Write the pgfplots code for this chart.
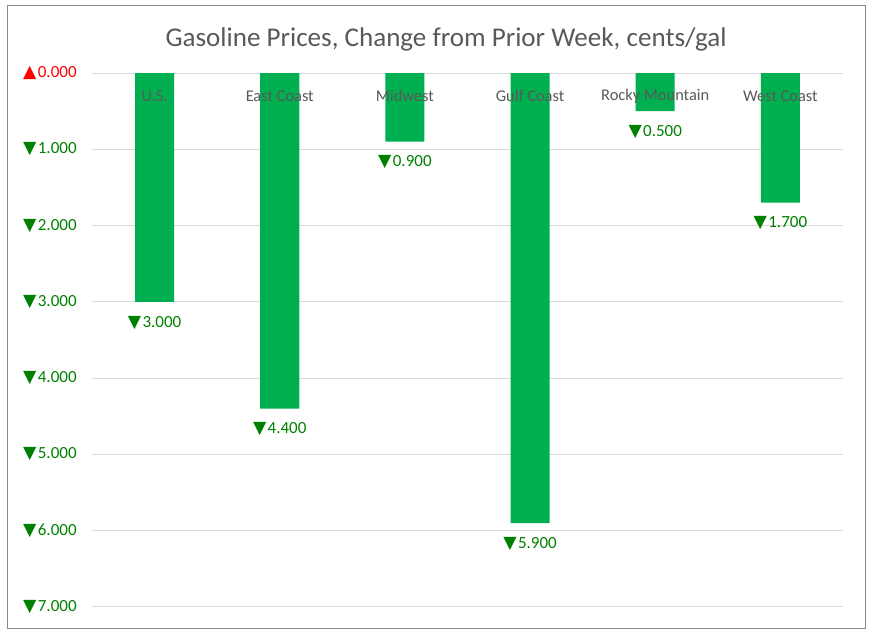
\documentclass[border=0pt]{standalone}
\usepackage{pgfplots}
\pgfplotsset{compat=1.18}
\usepackage{pgfplotstable}
\usepackage{fontspec}
\setmainfont{Carlito}
\newfontfamily\sym{DejaVu Sans}
\definecolor{bargreen}{HTML}{00B050}
\definecolor{lblgreen}{HTML}{008000}
\definecolor{lblred}{HTML}{FF0000}
\definecolor{txtgrey}{HTML}{595959}
\definecolor{gridgrey}{HTML}{D9D9D9}
\definecolor{bordergrey}{HTML}{898989}
\newcommand\dn{{\sym\fontsize{13}{13}\selectfont ▼}\kern1pt}
\newcommand\up{{\sym\fontsize{13}{13}\selectfont ▲}\kern1pt}

\pgfplotstableread[col sep=comma]{
x,y,lab,cat
0,-3.0,3.000,U.S.
1,-4.4,4.400,East Coast
2,-0.9,0.900,Midwest
3,-5.9,5.900,Gulf Coast
4,-0.5,0.500,Rocky Mountain
5,-1.7,1.700,West Coast
}\data

\begin{document}
\begin{tikzpicture}
\path[use as bounding box] (0,0) rectangle (656.25pt,478.5pt);
\draw[bordergrey, line width=0.75pt] (5.25pt,6.75pt) rectangle (648.75pt,474pt);
\node[txtgrey, font=\fontsize{20.3}{24}\selectfont] at (334.5pt,449.25pt) {Gasoline Prices, Change from Prior Week, cents/gal};
\begin{axis}[
  at={(69pt,23.25pt)}, anchor=south west,
  scale only axis, width=563.25pt, height=400.5pt,
  xmin=-0.5, xmax=5.5, ymin=-7, ymax=0,
  xtick=\empty,
  ytick={-7,-6,-5,-4,-3,-2,-1,0},
  yticklabels={{\color{lblgreen}\dn7.000},{\color{lblgreen}\dn6.000},{\color{lblgreen}\dn5.000},{\color{lblgreen}\dn4.000},{\color{lblgreen}\dn3.000},{\color{lblgreen}\dn2.000},{\color{lblgreen}\dn1.000},{\color{lblred}\up0.000}},
  yticklabel style={font=\fontsize{12.75}{14}\selectfont, anchor=east, xshift=-8pt},
  axis line style={draw=none},
  major tick length=0pt,
  ymajorgrids, grid style={gridgrey, line width=0.75pt},
  clip=false,
]
\addplot[ybar, bar width=29.25pt, fill=bargreen, draw=none,
  nodes near coords={\dn\pgfplotspointmeta}, point meta=explicit symbolic,
  every node near coord/.append style={anchor=center, yshift=-15.5pt, color=lblgreen, font=\fontsize{12.75}{14}\selectfont}]
  table[x=x, y=y, meta=lab] {\data};
\addplot[draw=none, mark=none, nodes near coords={\pgfplotspointmeta}, point meta=explicit symbolic,
  every node near coord/.append style={anchor=center, yshift=-17.25pt, color=txtgrey, font=\fontsize{12.3}{14}\selectfont}]
  table[x=x, y expr=0, meta=cat] {\data};
\end{axis}
\end{tikzpicture}
\end{document}
